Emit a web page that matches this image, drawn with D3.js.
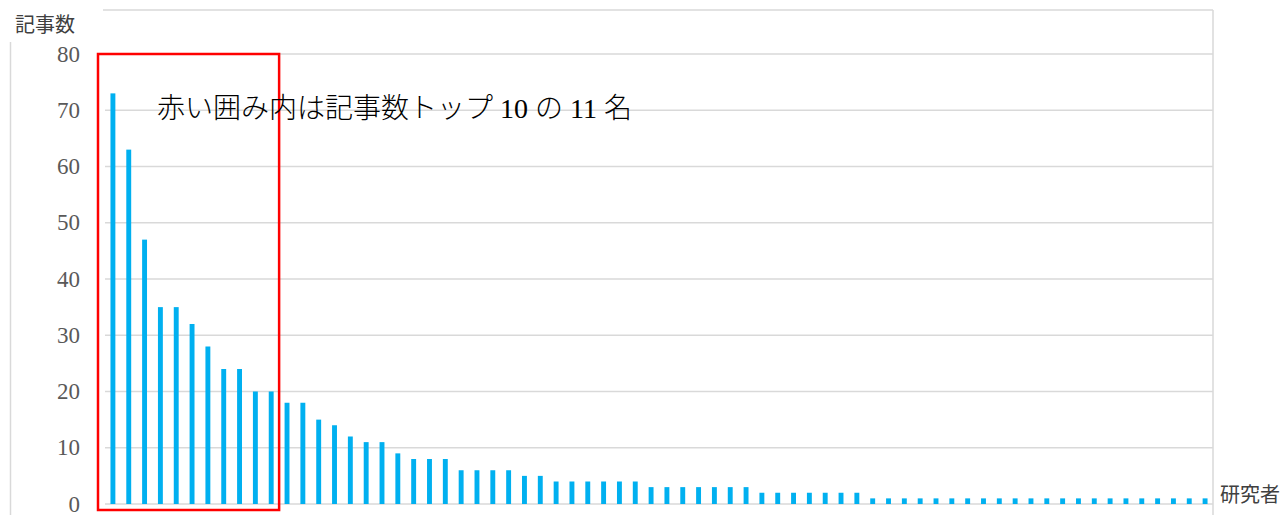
<!DOCTYPE html>
<html>
<head>
<meta charset="utf-8">
<script src="https://cdn.jsdelivr.net/npm/d3@7"></script>
<style>
  html, body { margin: 0; padding: 0; background: #fff; }
  svg { display: block; }
</style>
</head>
<body>
<svg id="chart" width="1284" height="515"></svg>
<script>
// ---- data ----
const counts = [
  73, 63, 47, 35, 35, 32, 28, 24, 24, 20, 20,
  18, 18, 15, 14, 12, 11, 11, 9, 8, 8, 8,
  6, 6, 6, 6, 5, 5,
  4, 4, 4, 4, 4, 4,
  3, 3, 3, 3, 3, 3, 3,
  2, 2, 2, 2, 2, 2, 2,
  1, 1, 1, 1, 1, 1, 1, 1, 1, 1, 1, 1, 1, 1, 1, 1, 1, 1, 1, 1, 1, 1
];
const researchers = counts.map((_, i) => "R" + (i + 1));
const yTicks = [0, 10, 20, 30, 40, 50, 60, 70, 80];
const topN = 11;
const yTitle = "記事数";
const xTitle = "研究者";
const note = "赤い囲み内は記事数トップ 10 の 11 名";

// ---- layout ----
const svg = d3.select("#chart");
const plot = { left: 105, right: 1213, top: 54, bottom: 504 };

const x = d3.scaleBand()
  .domain(researchers)
  .range([plot.left, plot.right])
  .paddingInner(0.69)
  .paddingOuter(0.345);

const y = d3.scaleLinear()
  .domain([0, 80])
  .range([plot.bottom, plot.top]);

const grid = "#d9d9d9";

// outer frame lines (chart area border, partly cropped)
svg.append("line").attr("x1", 103).attr("x2", 1213).attr("y1", 10).attr("y2", 10)
  .attr("stroke", grid).attr("stroke-width", 1.5);
svg.append("line").attr("x1", 1213).attr("x2", 1213).attr("y1", 10).attr("y2", 515)
  .attr("stroke", grid).attr("stroke-width", 1.5);
svg.append("line").attr("x1", 10.5).attr("x2", 10.5).attr("y1", 42).attr("y2", 515)
  .attr("stroke", grid).attr("stroke-width", 1.5);

// gridlines
svg.append("g")
  .selectAll("line")
  .data(yTicks)
  .join("line")
  .attr("x1", plot.left)
  .attr("x2", plot.right)
  .attr("y1", d => y(d))
  .attr("y2", d => y(d))
  .attr("stroke", grid)
  .attr("stroke-width", 1.5);

// y tick labels
svg.append("g")
  .selectAll("text")
  .data(yTicks)
  .join("text")
  .attr("x", 80)
  .attr("y", d => y(d) + 7.5)
  .attr("text-anchor", "end")
  .attr("font-family", "'Liberation Serif', 'DejaVu Serif', serif")
  .attr("font-size", 23)
  .attr("fill", "#595959")
  .text(d => d);

// bars
svg.append("g")
  .selectAll("rect")
  .data(counts)
  .join("rect")
  .attr("x", (d, i) => x(researchers[i]))
  .attr("y", d => y(d))
  .attr("width", x.bandwidth())
  .attr("height", d => y(0) - y(d))
  .attr("fill", "#00B0F0");

// red highlight box around top N
const step = x.step();
const firstBandStart = x(researchers[0]) - x.paddingOuter() * step;
const lastBandEnd = x(researchers[topN - 1]) + x.bandwidth() + x.paddingInner() * step / 2;
svg.append("rect")
  .attr("x", firstBandStart - 7)
  .attr("y", y(80))
  .attr("width", lastBandEnd - firstBandStart + 7)
  .attr("height", y(0) - y(80) + 6)
  .attr("fill", "none")
  .attr("stroke", "#FF0000")
  .attr("stroke-width", 2.5);

// axis titles
svg.append("text")
  .attr("x", 15)
  .attr("y", 32)
  .attr("font-family", "'Noto Sans CJK JP', sans-serif")
  .attr("font-size", 20)
  .attr("fill", "#404040")
  .text(yTitle);

svg.append("text")
  .attr("x", 1220)
  .attr("y", 502)
  .attr("font-family", "'Noto Sans CJK JP', sans-serif")
  .attr("font-size", 20)
  .attr("fill", "#404040")
  .text(xTitle);

// annotation
svg.append("text")
  .attr("x", 157)
  .attr("y", 118)
  .attr("font-family", "'Liberation Serif', 'Noto Sans CJK JP', serif")
  .attr("font-size", 28)
  .attr("font-weight", 300)
  .attr("fill", "#000")
  .text(note);
</script>
</body>
</html>
